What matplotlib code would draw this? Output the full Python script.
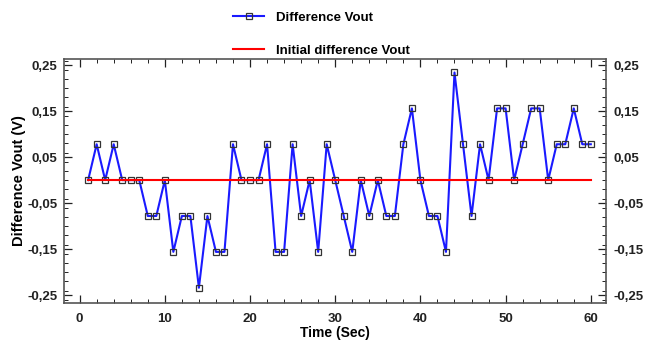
import numpy as np
import matplotlib
matplotlib.use("Agg")
import matplotlib.pyplot as plt
from matplotlib.ticker import MultipleLocator, FuncFormatter

# time in seconds and difference in LSB steps of ~0.078 V
time_sec = list(range(1, 61))
diff_vout = [0.0, 0.078, 0.0, 0.078, 0.0, 0.0, 0.0, -0.078, -0.078, 0.0,
             -0.156, -0.078, -0.078, -0.234, -0.078, -0.156, -0.156, 0.078, 0.0, 0.0,
             0.0, 0.078, -0.156, -0.156, 0.078, -0.078, 0.0, -0.156, 0.078, 0.0,
             -0.078, -0.156, 0.0, -0.078, 0.0, -0.078, -0.078, 0.078, 0.156, 0.0,
             -0.078, -0.078, -0.156, 0.234, 0.078, -0.078, 0.078, 0.0, 0.156, 0.156,
             0.0, 0.078, 0.156, 0.156, 0.0, 0.078, 0.078, 0.156, 0.078, 0.078]
initial_diff = [0.0] * 60

plt.rcParams['font.family'] = ['Liberation Sans', 'DejaVu Sans']
plt.rcParams['font.weight'] = 'bold'

fig = plt.figure(figsize=(6.56, 3.40), dpi=100)
ax = fig.add_axes([0.098, 0.109, 0.826, 0.717])

ax.plot(time_sec, diff_vout, color='#1a1aff', lw=1.5, marker='s', ms=4.5,
        mfc='none', mec='#333333', mew=0.9, label='Difference Vout')
ax.plot(time_sec, initial_diff, color='#ff0000', lw=1.5,
        label='Initial difference Vout')

ax.set_xlim(-1.8, 61.8)
ax.set_ylim(-0.267, 0.263)
ax.xaxis.set_major_locator(MultipleLocator(10))
ax.xaxis.set_minor_locator(MultipleLocator(2))
ax.set_yticks([-0.25, -0.15, -0.05, 0.05, 0.15, 0.25])
ax.yaxis.set_minor_locator(MultipleLocator(0.02))

fmt = FuncFormatter(lambda v, p: ('%.2f' % v).replace('.', ','))
ax.yaxis.set_major_formatter(fmt)

ax.tick_params(which='both', direction='in', top=True, right=True,
               labelright=True, labelsize=9.5, colors='#222222')
ax.tick_params(which='major', length=6, width=0.9)
ax.tick_params(which='minor', length=3, width=0.7)
ax.tick_params(axis='y', pad=5)
ax.tick_params(axis='x', pad=7)

for sp in ax.spines.values():
    sp.set_color('#555555')
    sp.set_linewidth(1.2)

ax.set_xlabel('Time (Sec)', fontsize=10, fontweight='bold', labelpad=1)
ax.set_ylabel('Difference Vout (V)', fontsize=10.5, fontweight='bold', labelpad=1)

leg = fig.legend(loc='upper center', bbox_to_anchor=(0.49, 1.0), ncol=1,
                 frameon=False, fontsize=9.5, handlelength=2.4,
                 labelspacing=1.55, handletextpad=0.9)

fig.savefig('out.png', dpi=100)
